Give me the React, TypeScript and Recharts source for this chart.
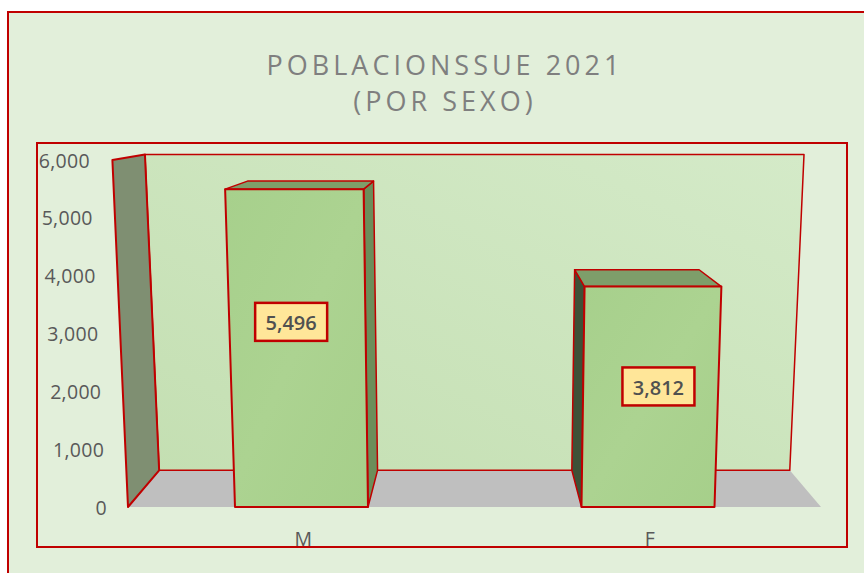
import React from 'react';
import { BarChart, Bar, XAxis, YAxis, ReferenceArea, LabelList } from 'recharts';

const categories = ['M', 'F'];
const values = [5496, 3812];
const yTicks = [0, 1000, 2000, 3000, 4000, 5000, 6000];
const titleLines = ['POBLACIONSSUE 2021', '(POR SEXO)'];

const data = categories.map((c, i) => ({ sexo: c, value: values[i] }));

const W = 864;
const H = 573;
const PLOT_TOP = 160;
const PLOT_BOTTOM = 507;
const PLOT_LEFT = 128;
const PLOT_RIGHT = 821;
const VX = 474;
const VY = 100;
const DEPTH = 0.09;
const SKEW = 0.00013;
const RED = '#C00000';
const FONT = '"Open Sans", sans-serif';

function proj(x: number, y: number, d: number): [number, number] {
  const s = 1 + (PLOT_BOTTOM - y) * SKEW;
  const sx = VX + (x - VX) * s;
  return [sx + (VX - sx) * DEPTH * d, y + (VY - y) * DEPTH * d];
}

function pts(list: [number, number][]): string {
  return list.map((p) => `${p[0].toFixed(2)},${p[1].toFixed(2)}`).join(' ');
}

function Walls(props: any) {
  const { x, y, width, height } = props;
  if (x == null) return null;
  const l = x;
  const r = x + width;
  const t = y;
  const b = y + height;
  const floor = [proj(l, b, 0), proj(r, b, 0), proj(r, b, 1), proj(l, b, 1)];
  const back = [proj(l, t, 1), proj(r, t, 1), proj(r, b, 1), proj(l, b, 1)];
  const side = [proj(l, t, 0), proj(l, t, 1), proj(l, b, 1), proj(l, b, 0)];
  return (
    <g>
      <defs>
        <linearGradient id="wallGrad" x1="0" y1="1" x2="1" y2="0">
          <stop offset="0%" stopColor="#C4DFB2" />
          <stop offset="100%" stopColor="#D4EAC8" />
        </linearGradient>
      </defs>
      <polygon points={pts(floor)} fill="#BFBFBF" />
      <polygon points={pts(back)} fill="url(#wallGrad)" stroke={RED} strokeWidth={1.5} strokeLinejoin="round" />
      <polygon points={pts(side)} fill="#7F8F72" stroke={RED} strokeWidth={2} strokeLinejoin="round" />
    </g>
  );
}

function Bar3D(props: any) {
  const { x, y, width, height } = props;
  if (x == null || height <= 0) return null;
  const l = x;
  const r = x + width;
  const t = y;
  const b = y + height;
  const front = [proj(l, t, 0), proj(r, t, 0), proj(r, b, 0), proj(l, b, 0)];
  const top = [proj(l, t, 0), proj(l, t, 1), proj(r, t, 1), proj(r, t, 0)];
  let side: [number, number][] | null = null;
  let sideFill = '#6C8E5A';
  if (r < VX) {
    side = [proj(r, t, 0), proj(r, t, 1), proj(r, b, 1), proj(r, b, 0)];
    sideFill = '#6C8E5A';
  } else if (l > VX) {
    side = [proj(l, t, 0), proj(l, t, 1), proj(l, b, 1), proj(l, b, 0)];
    sideFill = '#3E5137';
  }
  return (
    <g>
      <defs>
        <linearGradient id="barGrad" x1="0" y1="0" x2="1" y2="1">
          <stop offset="0%" stopColor="#A7D08C" />
          <stop offset="50%" stopColor="#ACD391" />
          <stop offset="100%" stopColor="#A6CF8A" />
        </linearGradient>
      </defs>
      {side && <polygon points={pts(side)} fill={sideFill} stroke={RED} strokeWidth={1.5} strokeLinejoin="round" />}
      <polygon points={pts(top)} fill="#7E9E6A" stroke={RED} strokeWidth={1.5} strokeLinejoin="round" />
      <polygon points={pts(front)} fill="url(#barGrad)" stroke={RED} strokeWidth={2} strokeLinejoin="round" />
    </g>
  );
}

function renderLabel(props: any) {
  const { x, y, width, height, value } = props;
  if (x == null) return null;
  const cx0 = x + width / 2;
  const cx = cx0 + (cx0 - VX) * 0.06;
  const cy = y + height * 0.337 + 25.6;
  const bw = 72;
  const bh = 38;
  return (
    <g>
      <rect x={cx - bw / 2} y={cy - bh / 2} width={bw} height={bh} fill="#FFE699" stroke={RED} strokeWidth={2.5} />
      <text x={cx} y={cy + 1} textAnchor="middle" dominantBaseline="central" fontFamily={FONT} fontSize={20} fontWeight={600} fill="#505050">
        {Number(value).toLocaleString('en-US')}
      </text>
    </g>
  );
}

function YTick(props: any) {
  const { y, payload } = props;
  const tx = 107 - (PLOT_BOTTOM - y) * 0.049;
  return (
    <text x={tx} y={y} textAnchor="end" dominantBaseline="central" fontFamily={FONT} fontSize={19.5} letterSpacing={0.3} fill="#595959">
      {Number(payload.value).toLocaleString('en-US')}
    </text>
  );
}

function XTick(props: any) {
  const { x, payload } = props;
  return (
    <text x={x + 2} y={PLOT_BOTTOM + 31} textAnchor="middle" dominantBaseline="central" fontFamily={FONT} fontSize={19.5} fill="#595959">
      {payload.value}
    </text>
  );
}

export default function App() {
  return (
    <div style={{ position: 'absolute', left: 0, top: 0, width: W, height: H, background: '#FFFFFF', overflow: 'hidden' }}>
      <div
        style={{
          position: 'absolute',
          left: 7,
          top: 11,
          width: W + 20,
          height: H + 20,
          background: '#E2EFDA',
          borderLeft: `2px solid ${RED}`,
          borderTop: `2px solid ${RED}`,
        }}
      />
      <div
        style={{
          position: 'absolute',
          left: 36,
          top: 142,
          width: 812,
          height: 406,
          boxSizing: 'border-box',
          border: `2px solid ${RED}`,
        }}
      />
      {titleLines.map((t, i) => (
        <div
          key={t}
          style={{
            position: 'absolute',
            left: 0,
            width: 890,
            top: 45 + i * 36,
            textAlign: 'center',
            fontFamily: FONT,
            fontSize: 27,
            lineHeight: '40px',
            letterSpacing: 4,
            color: '#7F7F7F',
            whiteSpace: 'nowrap',
          }}
        >
          {t}
        </div>
      ))}
      <div style={{ position: 'absolute', left: 0, top: 0 }}>
        <BarChart
          width={W}
          height={H}
          data={data}
          margin={{ top: PLOT_TOP, right: W - PLOT_RIGHT, bottom: 36, left: 0 }}
        >
          <XAxis dataKey="sexo" axisLine={false} tickLine={false} height={30} tick={<XTick />} interval={0} />
          <YAxis
            width={PLOT_LEFT}
            domain={[0, 6000]}
            ticks={yTicks}
            axisLine={false}
            tickLine={false}
            tick={<YTick />}
            interval={0}
          />
          <ReferenceArea y1={0} y2={6000} shape={(p: any) => <Walls {...p} />} ifOverflow="visible" />
          <Bar dataKey="value" barSize={133} isAnimationActive={false} shape={(p: any) => <Bar3D {...p} />}>
            <LabelList dataKey="value" content={renderLabel} />
          </Bar>
        </BarChart>
      </div>
    </div>
  );
}
